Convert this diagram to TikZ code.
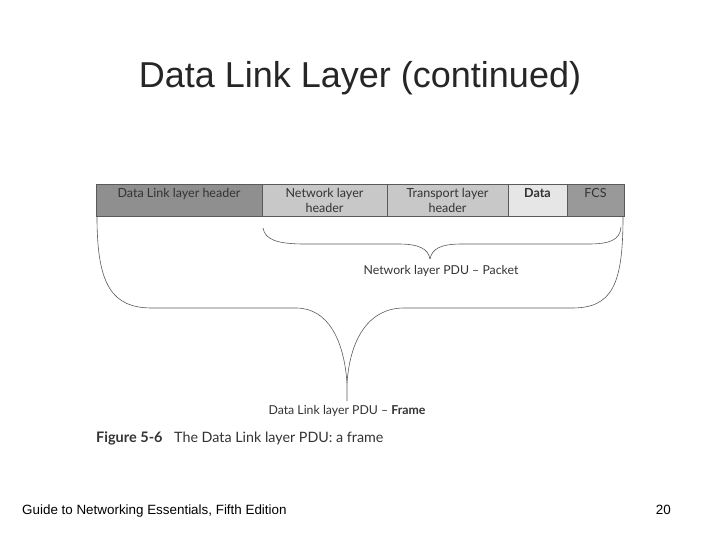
\documentclass[tikz,border=0pt]{standalone}
\usepackage{fontspec}
\setmainfont{Liberation Sans}
\newfontfamily\figfont{Lato}
\definecolor{dlgray}{HTML}{8F8F8F}
\definecolor{midgray}{HTML}{C8C8C8}
\definecolor{litegray}{HTML}{E6E6E6}
\definecolor{fcsgray}{HTML}{999999}
\definecolor{edge}{HTML}{5A5A5A}
\definecolor{ftext}{HTML}{333333}
\begin{document}
\begin{tikzpicture}[x=1pt,y=-1pt,
  seg/.style={draw=edge,line width=0.7pt,anchor=north west,minimum height=32pt,inner sep=0pt,outer sep=0pt},
  segtext/.style={anchor=north,font=\figfont\fontsize{12.5}{15}\selectfont,text=ftext,align=center,inner sep=0pt},
  brace/.style={draw=edge,line width=0.6pt},
  lbl/.style={font=\figfont\fontsize{12.3}{14}\selectfont,text=ftext,inner sep=0pt,anchor=base}]
\useasboundingbox (0,0) rectangle (720,540);
% title
\node[anchor=base,font=\fontsize{36}{40}\selectfont,text=black!85] (title) at (360,88) {Data Link Layer (continued)};
% frame segments
\node[seg,fill=dlgray,minimum width=166pt] (dl) at (96,184) {};
\node[seg,fill=midgray,minimum width=125pt] (net) at (262,184) {};
\node[seg,fill=midgray,minimum width=121pt] (tr) at (387,184) {};
\node[seg,fill=litegray,minimum width=59pt] (data) at (508,184) {};
\node[seg,fill=fcsgray,minimum width=57pt] (fcs) at (567,184) {};
\node[segtext] (dlt) at ([yshift=-4pt]dl.north) {Data Link layer header};
\node[segtext] (nett) at ([yshift=-4pt]net.north) {Network layer\\header};
\node[segtext] (trt) at ([yshift=-4pt]tr.north) {Transport layer\\header};
\node[segtext] (datat) at ([yshift=-4pt]data.north) {\bfseries Data};
\node[segtext] (fcst) at ([yshift=-4pt]fcs.north) {FCS};
% inner brace (packet)
\coordinate (pl) at (263,228);
\coordinate (pr) at (621,227);
\coordinate (ptip) at (430,259);
\draw[brace] (pl) .. controls (265,240) and (278,244) .. (305,244) -- (398,244)
  .. controls (420,244) and (428,249) .. (ptip);
\draw[brace] (ptip) .. controls (432,249) and (440,244) .. (462,244) -- (588,244)
  .. controls (610,244) and (620,240) .. (pr);
\node[lbl] (pkt) at (441,274) {Network layer PDU \textendash{} Packet};
% outer brace (frame)
\coordinate (fl) at (97,217);
\coordinate (fr) at (623,217);
\coordinate (ftip) at (347,383);
\coordinate (fend) at (347,401);
\draw[brace] (fl) .. controls (97,285) and (112,308) .. (152,308) -- (296,308)
  .. controls (328,308) and (344,340) .. (ftip) -- (fend);
\draw[brace] (ftip) .. controls (350,340) and (368,308) .. (404,308) -- (572,308)
  .. controls (612,308) and (623,285) .. (fr);
\node[lbl] (frm) at (347,414) {Data Link layer PDU \textendash{} \textbf{Frame}};
% caption
\node[anchor=base west,inner sep=0pt,font=\figfont\fontsize{14.5}{16}\selectfont,text=ftext] (cap1) at (96,442) {\textbf{Figure 5-6}};
\node[anchor=base west,inner sep=0pt,font=\figfont\fontsize{14.3}{16}\selectfont,text=ftext] (cap2) at (174,442) {The Data Link layer PDU: a frame};
% footer
\node[anchor=base west,inner sep=0pt,font=\fontsize{13.4}{15}\selectfont] (foot) at (22,514) {Guide to Networking Essentials, Fifth Edition};
\node[anchor=base east,inner sep=0pt,font=\fontsize{13.4}{15}\selectfont] (pg) at (671,514) {20};
\end{tikzpicture}
\end{document}
